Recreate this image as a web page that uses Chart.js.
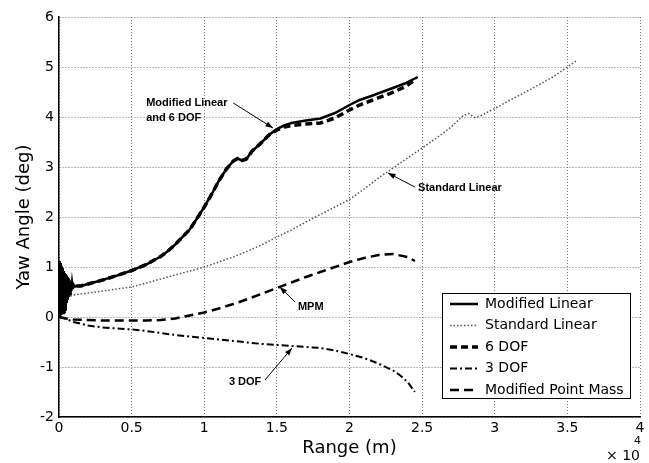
<!DOCTYPE html>
<html>
<head>
<meta charset="utf-8">
<script src="https://cdn.jsdelivr.net/npm/chart.js@4.4.1/dist/chart.umd.min.js"></script>
<style>
  html, body { margin: 0; padding: 0; background: #fff; }
</style>
</head>
<body>
<canvas id="yawChart" width="649" height="463"></canvas>
<script>
// range in units of 1e4 m, yaw angle in deg
const modLinX = [0, 0.003, 0.006, 0.009, 0.012, 0.015, 0.018, 0.021, 0.024, 0.027, 0.030, 0.033, 0.036, 0.039,
  0.042, 0.045, 0.048, 0.051, 0.054, 0.057, 0.060, 0.064, 0.068, 0.072, 0.076, 0.080, 0.085, 0.090, 0.095, 0.100,
  0.11, 0.12, 0.15, 0.2, 0.25, 0.3, 0.4, 0.5, 0.6, 0.7, 0.75, 0.8, 0.9, 0.95, 1.0, 1.05, 1.1, 1.15, 1.2, 1.23,
  1.26, 1.29, 1.33, 1.38, 1.45, 1.5, 1.55, 1.6, 1.7, 1.8, 1.9, 2.0, 2.07, 2.15, 2.28, 2.38, 2.47];
const modLinY = [0, 1.12, 0.02, 1.08, 0.03, 1.02, 0.05, 0.98, 0.06, 0.95, 0.08, 0.92, 0.10, 0.88,
  0.15, 0.86, 0.22, 0.83, 0.28, 0.80, 0.34, 0.77, 0.40, 0.74, 0.46, 0.71, 0.52, 0.68, 0.56, 0.65,
  0.61, 0.62, 0.62, 0.66, 0.70, 0.74, 0.83, 0.93, 1.05, 1.21, 1.32, 1.45, 1.75, 1.97, 2.2, 2.45, 2.72, 2.95, 3.12, 3.17,
  3.13, 3.16, 3.32, 3.45, 3.65, 3.76, 3.83, 3.88, 3.93, 3.97, 4.08, 4.24, 4.34, 4.42, 4.56, 4.67, 4.8];

const stdLinX = [0.02, 0.03, 0.05, 0.08, 0.1, 0.2, 0.3, 0.4, 0.5, 0.6, 0.7, 0.8, 0.9, 1.0, 1.1, 1.2, 1.3, 1.4, 1.5,
  1.6, 1.7, 1.8, 1.9, 2.0, 2.1, 2.2, 2.3, 2.4, 2.5, 2.6, 2.7, 2.78, 2.82, 2.86, 2.9, 3.0, 3.1, 3.2, 3.3, 3.4, 3.5, 3.57];
const stdLinY = [0.05, 0.2, 0.35, 0.42, 0.44, 0.48, 0.52, 0.56, 0.6, 0.68, 0.76, 0.84, 0.92, 1.0, 1.1, 1.2, 1.32, 1.45, 1.6,
  1.74, 1.9, 2.05, 2.2, 2.35, 2.56, 2.78, 2.98, 3.18, 3.38, 3.58, 3.8, 4.02, 4.07, 3.99, 4.02, 4.17, 4.33, 4.48, 4.64, 4.8, 5.0, 5.14];

const sixDofX = [0.12, 0.15, 0.2, 0.25, 0.3, 0.4, 0.5, 0.6, 0.7, 0.75, 0.8, 0.9, 0.95, 1.0, 1.05, 1.1, 1.15, 1.2, 1.23,
  1.26, 1.29, 1.33, 1.38, 1.45, 1.5, 1.55, 1.6, 1.7, 1.8, 1.9, 2.0, 2.07, 2.15, 2.28, 2.38, 2.46];
const sixDofY = [0.62, 0.62, 0.66, 0.70, 0.74, 0.83, 0.93, 1.05, 1.21, 1.32, 1.45, 1.75, 1.97, 2.2, 2.45, 2.72, 2.95, 3.12, 3.17,
  3.13, 3.16, 3.32, 3.45, 3.65, 3.74, 3.8, 3.83, 3.86, 3.88, 3.98, 4.14, 4.24, 4.33, 4.47, 4.6, 4.76];

const threeDofX = [0, 0.05, 0.1, 0.2, 0.3, 0.4, 0.5, 0.6, 0.7, 0.8, 0.9, 1.0, 1.1, 1.2, 1.3, 1.4, 1.5, 1.6, 1.7,
  1.8, 1.9, 2.0, 2.1, 2.2, 2.3, 2.35, 2.4, 2.45];
const threeDofY = [0, -0.04, -0.1, -0.17, -0.21, -0.23, -0.25, -0.28, -0.32, -0.36, -0.39, -0.42, -0.45, -0.48, -0.51, -0.54, -0.56, -0.58, -0.6,
  -0.62, -0.67, -0.74, -0.82, -0.93, -1.07, -1.17, -1.3, -1.5];

const mpmX = [0, 0.05, 0.1, 0.2, 0.3, 0.4, 0.5, 0.6, 0.7, 0.8, 0.9, 1.0, 1.1, 1.2, 1.3, 1.4, 1.5, 1.6, 1.7,
  1.8, 1.9, 2.0, 2.1, 2.2, 2.3, 2.4, 2.45];
const mpmY = [0, -0.03, -0.05, -0.06, -0.07, -0.07, -0.07, -0.07, -0.06, -0.03, 0.03, 0.09, 0.17, 0.26, 0.36, 0.47, 0.58, 0.69, 0.8,
  0.9, 1.0, 1.1, 1.18, 1.24, 1.26, 1.2, 1.12];

const seriesNames = ['Modified Linear', 'Standard Linear', '6 DOF', '3 DOF', 'Modified Point Mass'];
const xTicks = [0, 0.5, 1, 1.5, 2, 2.5, 3, 3.5, 4];
const xTickLabels = ['0', '0.5', '1', '1.5', '2', '2.5', '3', '3.5', '4'];
const yTicks = [-2, -1, 0, 1, 2, 3, 4, 5, 6];
const yTickLabels = ['-2', '-1', '0', '1', '2', '3', '4', '5', '6'];

function pts(xs, ys) {
  return xs.map((x, i) => ({ x: x, y: ys[i] }));
}

const tickFont = { family: 'DejaVu Sans', size: 14 };

// white background
const bgPlugin = {
  id: 'bg',
  beforeDraw(chart) {
    const c = chart.ctx;
    c.save();
    c.fillStyle = '#fff';
    c.fillRect(0, 0, chart.width, chart.height);
    c.restore();
  }
};

// arrows + text callouts, the x10^4 label and the boxed legend
const notesPlugin = {
  id: 'notes',
  afterDraw(chart) {
    const c = chart.ctx;
    const xs = chart.scales.x, ys = chart.scales.y;
    const px = v => xs.getPixelForValue(v);
    const py = v => ys.getPixelForValue(v);

    const notes = [
      { lines: ['Modified Linear', 'and 6 DOF'], at: [0.6, 4.28], from: [1.2, 4.28], to: [1.473, 3.78] },
      { lines: ['Standard Linear'], at: [2.472, 2.58], from: [2.45, 2.6], to: [2.265, 2.88] },
      { lines: ['MPM'], at: [1.645, 0.2], from: [1.625, 0.3], to: [1.52, 0.6] },
      { lines: ['3 DOF'], at: [1.17, -1.3], from: [1.418, -1.26], to: [1.604, -0.62] }
    ];

    c.save();
    c.font = 'bold 11px "Liberation Sans", Arial, sans-serif';
    c.fillStyle = '#000';
    c.textBaseline = 'middle';
    c.textAlign = 'left';
    notes.forEach(n => {
      n.lines.forEach((t, i) => c.fillText(t, px(n.at[0]), py(n.at[1]) + i * 15));
      const x0 = px(n.from[0]), y0 = py(n.from[1]);
      const x1 = px(n.to[0]), y1 = py(n.to[1]);
      c.strokeStyle = '#000';
      c.lineWidth = 1;
      c.setLineDash([]);
      c.beginPath();
      c.moveTo(x0, y0);
      c.lineTo(x1, y1);
      c.stroke();
      const a = Math.atan2(y1 - y0, x1 - x0);
      c.beginPath();
      c.moveTo(x1, y1);
      c.lineTo(x1 - 8 * Math.cos(a - 0.35), y1 - 8 * Math.sin(a - 0.35));
      c.lineTo(x1 - 8 * Math.cos(a + 0.35), y1 - 8 * Math.sin(a + 0.35));
      c.closePath();
      c.fill();
    });

    // x 10^4
    c.font = '14px "DejaVu Sans"';
    c.textAlign = 'left';
    c.fillText('\u00d7 10', 606, 456);
    c.font = '11px "DejaVu Sans"';
    c.fillText('4', 634, 441);

    // legend
    const lx = 442, ly = 293, lw = 188, lh = 105;
    c.fillStyle = '#fff';
    c.fillRect(lx, ly, lw, lh);
    c.strokeStyle = '#000';
    c.lineWidth = 1;
    c.strokeRect(lx + 0.5, ly + 0.5, lw, lh);
    c.font = '14px "DejaVu Sans"';
    c.fillStyle = '#000';
    chart.data.datasets.forEach((ds, i) => {
      const yy = ly + 11 + i * 21.5;
      c.strokeStyle = ds.borderColor;
      c.lineWidth = ds.borderWidth;
      c.setLineDash(ds.borderDash || []);
      c.beginPath();
      c.moveTo(450, yy);
      c.lineTo(478, yy);
      c.stroke();
      c.setLineDash([]);
      c.fillText(ds.label, 485, yy);
    });
    c.restore();
  }
};

new Chart(document.getElementById('yawChart'), {
  type: 'line',
  data: {
    datasets: [
      { label: seriesNames[0], data: pts(modLinX, modLinY), borderColor: '#000', borderWidth: 2.5 },
      { label: seriesNames[1], data: pts(stdLinX, stdLinY), borderColor: '#555', borderWidth: 1.5, borderDash: [1.5, 2] },
      { label: seriesNames[2], data: pts(sixDofX, sixDofY), borderColor: '#000', borderWidth: 3.5, borderDash: [7, 4] },
      { label: seriesNames[3], data: pts(threeDofX, threeDofY), borderColor: '#000', borderWidth: 2, borderDash: [7, 3, 2, 3] },
      { label: seriesNames[4], data: pts(mpmX, mpmY), borderColor: '#000', borderWidth: 2.5, borderDash: [9, 5] }
    ]
  },
  options: {
    responsive: false,
    animation: false,
    clip: false,
    layout: { padding: { top: 17, right: 9, left: 0, bottom: 0 } },
    elements: {
      point: { radius: 0 },
      line: { tension: 0, fill: false }
    },
    plugins: {
      legend: { display: false },
      tooltip: { enabled: false }
    },
    scales: {
      x: {
        type: 'linear',
        min: 0,
        max: 4,
        afterFit: (s) => { s.height = 46; },
        afterBuildTicks: (s) => { s.ticks = xTicks.map(v => ({ value: v })); },
        ticks: {
          color: '#000',
          font: tickFont,
          padding: 3,
          maxRotation: 0,
          callback: (v) => xTickLabels[xTicks.indexOf(v)]
        },
        grid: { color: '#777', lineWidth: 1, drawTicks: false },
        border: { color: '#000', width: 1.5, dash: [1, 2] },
        title: {
          display: true,
          text: 'Range (m)',
          color: '#000',
          font: { family: 'DejaVu Sans', size: 18, lineHeight: 1.2 },
          padding: { top: 0, bottom: 4 }
        }
      },
      y: {
        type: 'linear',
        min: -2,
        max: 6,
        afterFit: (s) => { s.width = 59; },
        afterBuildTicks: (s) => { s.ticks = yTicks.map(v => ({ value: v })); },
        ticks: {
          color: '#000',
          font: tickFont,
          padding: 5,
          callback: (v) => yTickLabels[yTicks.indexOf(v)]
        },
        grid: { color: '#777', lineWidth: 1, drawTicks: false },
        border: { color: '#000', width: 1.5, dash: [1, 2] },
        title: {
          display: true,
          text: 'Yaw Angle (deg)',
          color: '#000',
          font: { family: 'DejaVu Sans', size: 18, lineHeight: 1.2 },
          padding: { top: 14, bottom: 0 }
        }
      }
    }
  },
  plugins: [bgPlugin, notesPlugin]
});
</script>
</body>
</html>
